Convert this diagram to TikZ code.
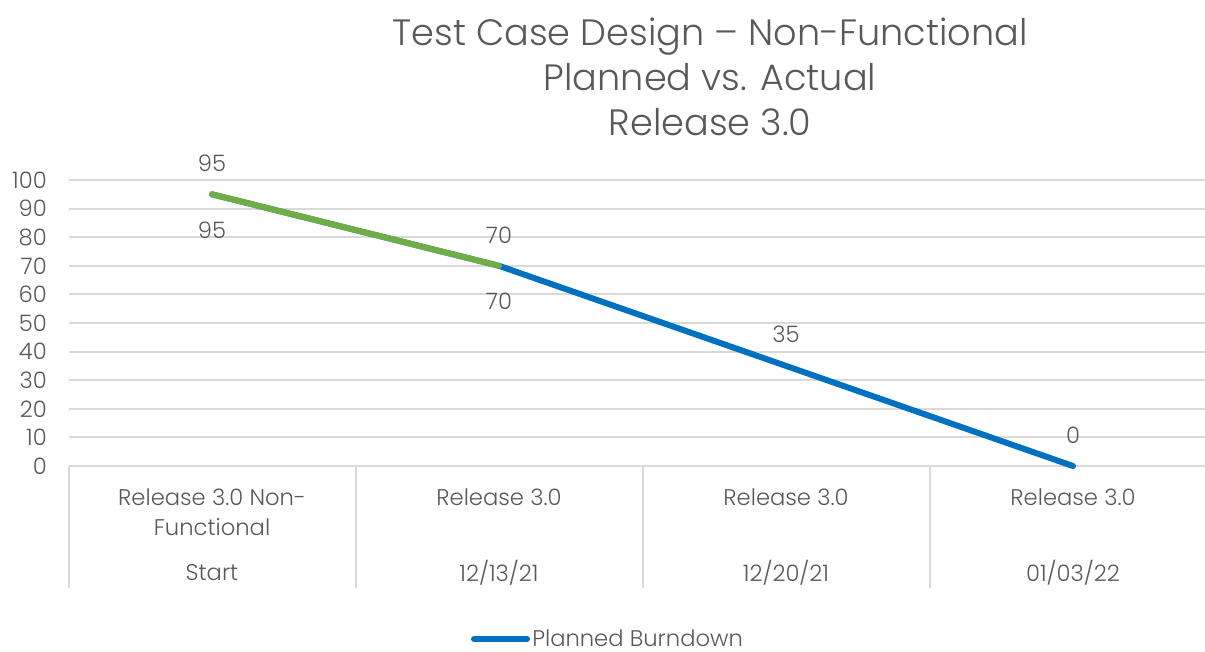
\documentclass[tikz,border=0pt]{standalone}
\usepackage{fontspec}
\setmainfont{Poppins}[UprightFont=* Light]
\definecolor{txt}{RGB}{89,89,89}
\definecolor{gridc}{RGB}{217,217,217}
\definecolor{planblue}{RGB}{0,112,192}
\definecolor{actgreen}{RGB}{112,173,71}
\tikzset{
  gridline/.style={draw=gridc, line width=1.5pt},
  sepline/.style={draw=gridc, line width=1.5pt},
  ylab/.style={anchor=east, inner sep=0pt, font=\fontsize{17}{20}\selectfont},
  dlab/.style={inner sep=0pt, font=\fontsize{17}{20}\selectfont},
  catlab/.style={inner sep=0pt, align=center, font=\fontsize{17}{22.5}\selectfont},
  planned/.style={draw=planblue, line width=4.5pt, line cap=round, line join=round},
  actual/.style={draw=actgreen, line width=4.5pt, line cap=round, line join=round}
}
\begin{document}
\begin{tikzpicture}[x=0.75pt,y=-0.75pt, text=txt]
\useasboundingbox (0,0) rectangle (1205,652);
% title
\node[inner sep=0pt, align=center, font=\fontsize{27.5}{33.5}\selectfont] (title) at (710,77) {Test Case Design -- Non-Functional\\Planned vs. Actual\\Release 3.0};
% gridlines and y labels
\foreach \v in {10,20,...,100} {
  \draw[gridline] (69,{466-2.86*\v}) -- (1205,{466-2.86*\v});
}
\foreach \v in {0,10,...,100} {
  \node[ylab] (y\v) at (47,{466-2.86*\v}) {\v};
}
% category axis
\draw[sepline] (69,466) -- (1205,466);
\foreach \xx in {69,356,643,930} {
  \draw[sepline] (\xx,466) -- (\xx,588);
}
% data points
\coordinate (p1) at (212,{466-2.86*95});
\coordinate (p2) at (499,{466-2.86*70});
\coordinate (p3) at (786,{466-2.86*35});
\coordinate (p4) at (1073,466);
\draw[planned] (p1) -- (p2) -- (p3) -- (p4);
\draw[actual] (p1) -- (p2);
% data labels
\node[dlab] (a1) at (212,163) {95};
\node[dlab] (b1) at (212,230) {95};
\node[dlab] (a2) at (499,235) {70};
\node[dlab] (b2) at (499,301) {70};
\node[dlab] (b3) at (786,334) {35};
\node[dlab] (b4) at (1073,435) {0};
% category labels
\node[catlab, anchor=north] (c1) at (212,488) {Release 3.0 Non-\\Functional};
\node[catlab, anchor=north] (c2) at (499,488) {Release 3.0};
\node[catlab, anchor=north] (c3) at (786,488) {Release 3.0};
\node[catlab, anchor=north] (c4) at (1073,488) {Release 3.0};
\node[dlab] (d1) at (212,573) {Start};
\node[dlab] (d2) at (499,573) {12/13/21};
\node[dlab] (d3) at (786,573) {12/20/21};
\node[dlab] (d4) at (1073,573) {01/03/22};
% legend
\coordinate (l1) at (474,639);
\coordinate (l2) at (527,639);
\draw[planned] (l1) -- (l2);
\node[dlab, anchor=west] (leg) at (532,638) {Planned Burndown};
\end{tikzpicture}
\end{document}
